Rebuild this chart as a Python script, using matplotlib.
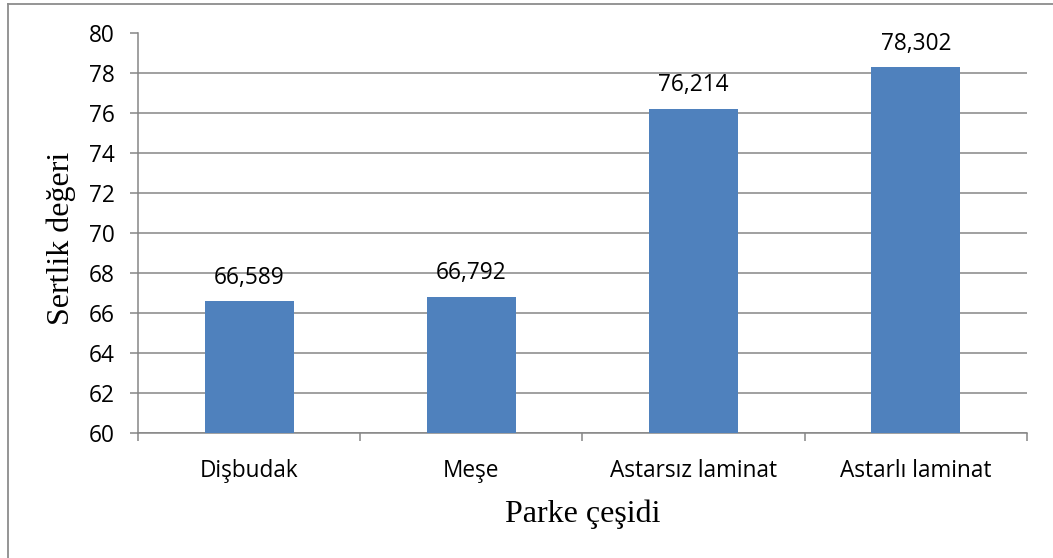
import matplotlib
matplotlib.use("Agg")
import matplotlib.pyplot as plt
from matplotlib.lines import Line2D
import numpy as np

categories = ["Dişbudak", "Meşe", "Astarsız laminat", "Astarlı laminat"]
values = [66.589, 66.792, 76.214, 78.302]
yticks = [60, 62, 64, 66, 68, 70, 72, 74, 76, 78, 80]
xlabel = "Parke çeşidi"
ylabel = "Sertlik değeri"

W, H, DPI = 1053, 558, 100
fig = plt.figure(figsize=(W / DPI, H / DPI), dpi=DPI)
fig.patch.set_facecolor("white")

L, R, T, B = 138, 1027, 33.5, 432.7
ax = fig.add_axes([L / W, 1 - B / H, (R - L) / W, (B - T) / H])

GRID = "#868686"
TICKFONT = "Open Sans"
FS = 16.3

x = np.arange(len(categories))
ax.bar(x, values, width=0.4, color="#4F81BD", zorder=3, bottom=0)
ax.set_xlim(-0.5, len(categories) - 0.5)
ax.set_ylim(yticks[0], yticks[-1])
ax.set_yticks(yticks)
ax.set_yticklabels([str(t) for t in yticks], fontfamily=TICKFONT, fontsize=FS)
ax.set_xticks(x)
ax.set_xticklabels(categories, fontfamily=TICKFONT, fontsize=FS)
ax.set_xticks(np.arange(len(categories) + 1) - 0.5, minor=True)

ax.grid(axis="y", color=GRID, linewidth=1.1, zorder=0)
ax.set_axisbelow(True)
for s in ["top", "right"]:
    ax.spines[s].set_visible(False)
for s in ["left", "bottom"]:
    ax.spines[s].set_color(GRID)
    ax.spines[s].set_linewidth(1.1)

ax.tick_params(axis="y", which="major", length=6, width=1.1, color=GRID, pad=11)
ax.tick_params(axis="x", which="major", length=0, pad=19)
ax.tick_params(axis="x", which="minor", length=6, width=1.1, color=GRID)

for xi, v in zip(x, values):
    ax.annotate(f"{v:.3f}".replace(".", ","), (xi, v), xytext=(0, 12.7),
                textcoords="offset points", ha="center", va="baseline",
                fontfamily=TICKFONT, fontsize=FS)

fig.text((L + R) / 2 / W, 1 - 522 / H, xlabel, fontfamily="Liberation Serif",
         fontsize=23, ha="center", va="baseline")
fig.text(69 / W, 1 - 238.5 / H, ylabel, fontfamily="Liberation Serif",
         fontsize=23, ha="center", va="baseline", rotation=90,
         rotation_mode="anchor")

# outer frame (top and left edges visible)
fig.add_artist(Line2D([8 / W, 1], [1 - 4 / H, 1 - 4 / H], transform=fig.transFigure,
                      color="#8C8C8C", linewidth=1.3))
fig.add_artist(Line2D([8 / W, 8 / W], [0, 1 - 4 / H], transform=fig.transFigure,
                      color="#8C8C8C", linewidth=1.3))

fig.savefig("out.png", dpi=DPI)
